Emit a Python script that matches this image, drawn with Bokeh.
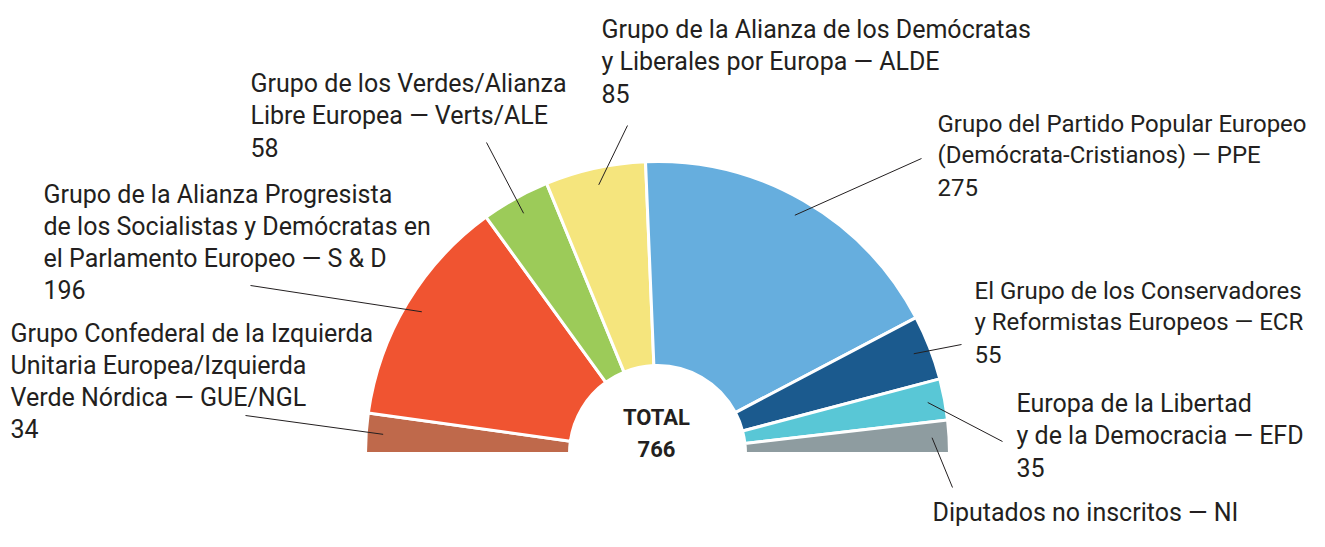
import numpy as np
from bokeh.plotting import figure
from bokeh.models import Range1d
from bokeh.core.properties import value
from bokeh.embed import file_html
from bokeh.resources import INLINE

# ---- data ----
groups = ["GUE/NGL", "S & D", "Verts/ALE", "ALDE", "PPE", "ECR", "EFD", "NI"]
seats = [34, 196, 58, 85, 275, 55, 35, 28]
colors = ["#bf694b", "#f05431", "#9ccb59", "#f5e57d", "#66aede", "#1b5a8e", "#59c7d6", "#8e9ca0"]
label_lines = [
    ["Grupo Confederal de la Izquierda", "Unitaria Europea/Izquierda", "Verde Nórdica — GUE/NGL", "34"],
    ["Grupo de la Alianza Progresista", "de los Socialistas y Demócratas en", "el Parlamento Europeo — S & D", "196"],
    ["Grupo de los Verdes/Alianza", "Libre Europea — Verts/ALE", "58"],
    ["Grupo de la Alianza de los Demócratas", "y Liberales por Europa — ALDE", "85"],
    ["Grupo del Partido Popular Europeo", "(Demócrata-Cristianos) — PPE", "275"],
    ["El Grupo de los Conservadores", "y Reformistas Europeos — ECR", "55"],
    ["Europa de la Libertad", "y de la Democracia — EFD", "35"],
    ["Diputados no inscritos — NI", "28"],
]
total_label = ["TOTAL", str(sum(seats))]

# ---- layout (picture pixel coordinates, y negated) ----
W, H = 1309, 531
CX, CY = 657, -453
R_OUT, R_IN = 292, 88
label_x = [10, 43, 250, 601, 937, 974, 1016, 932]
label_y0 = [333, 194, 83, 29, 123, 290, 403, 512]
label_size = ["25px", "25px", "25px", "25px", "24px", "24px", "25px", "25px"]
line_step = 31.8
leader_out = [(245, 415), (250, 285), (486, 142), (627, 125), (921, 158), (961, 344), (1002, 441), (952, 487)]
leader_r = 275
FONT = "Roboto"
TXT = "#231f20"

p = figure(width=W, height=H, output_backend="svg", toolbar_location=None,
           x_range=Range1d(0, W), y_range=Range1d(-H, 0), min_border=0)
p.axis.visible = False
p.grid.visible = False
p.outline_line_color = None
p.background_fill_color = "white"

total = sum(seats)
cum = np.cumsum([0] + seats)
starts = [np.pi * (1 - cum[i + 1] / total) for i in range(len(seats))]
ends = [np.pi * (1 - cum[i] / total) for i in range(len(seats))]
mids = [(s + e) / 2 for s, e in zip(starts, ends)]

p.annular_wedge(x=CX, y=CY, inner_radius=R_IN, outer_radius=R_OUT,
                start_angle=starts, end_angle=ends, fill_color=colors,
                line_color="white", line_width=3)

# leader lines
x0 = [CX + leader_r * np.cos(m) for m in mids]
y0 = [CY + leader_r * np.sin(m) for m in mids]
x1 = [pt[0] for pt in leader_out]
y1 = [-pt[1] for pt in leader_out]
p.segment(x0=x0, y0=y0, x1=x1, y1=y1, line_color="#231f20", line_width=1)

# labels
xs, ys, ts, fs = [], [], [], []
for lines, lx, ly, sz in zip(label_lines, label_x, label_y0, label_size):
    for k, t in enumerate(lines):
        xs.append(lx)
        ys.append(-(ly + k * line_step))
        ts.append(t)
        fs.append(sz)
p.text(x=xs, y=ys, text=ts, text_font=value(FONT), text_font_size=fs,
       text_color=TXT, text_baseline="alphabetic", text_align="left")

p.text(x=[CX - 1, CX - 1], y=[-417, -448], text=total_label, text_font=value(FONT),
       text_font_size="22px", text_font_style="bold", text_color=TXT,
       text_baseline="alphabetic", text_align="center")

open("out.html", "w").write(file_html(p, INLINE))
